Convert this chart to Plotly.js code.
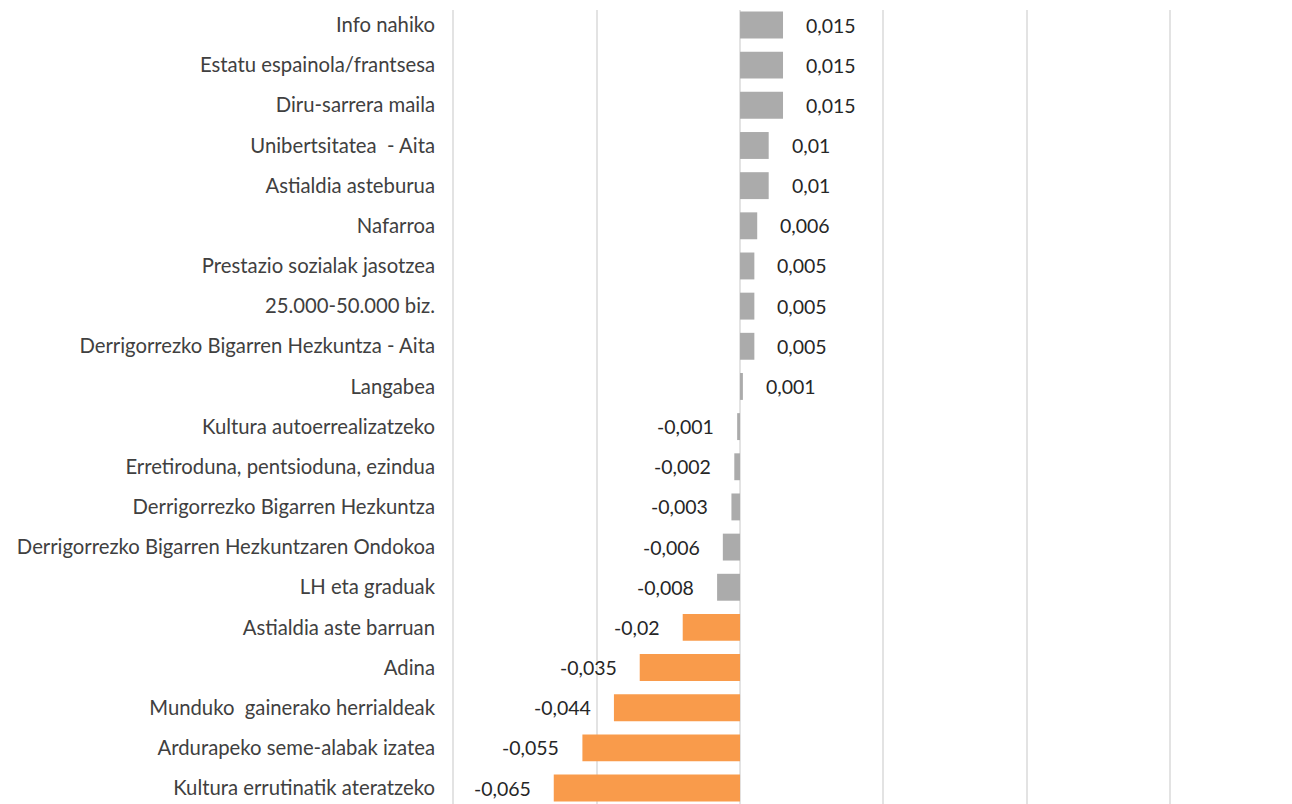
<!DOCTYPE html>
<html>
<head>
<meta charset="utf-8">
<script src="https://cdn.plot.ly/plotly-3.0.1.min.js"></script>
<style>html,body{margin:0;padding:0;background:#fff;}#chart{width:1292px;height:804px;}</style>
</head>
<body>
<div id="chart"></div>
<script>
const categories = [
  "Info nahiko",
  "Estatu espainola/frantsesa",
  "Diru-sarrera maila",
  "Unibertsitatea  - Aita",
  "Astialdia asteburua",
  "Nafarroa",
  "Prestazio sozialak jasotzea",
  "25.000-50.000 biz.",
  "Derrigorrezko Bigarren Hezkuntza - Aita",
  "Langabea",
  "Kultura autoerrealizatzeko",
  "Erretiroduna, pentsioduna, ezindua",
  "Derrigorrezko Bigarren Hezkuntza",
  "Derrigorrezko Bigarren Hezkuntzaren Ondokoa",
  "LH eta graduak",
  "Astialdia aste barruan",
  "Adina",
  "Munduko  gainerako herrialdeak",
  "Ardurapeko seme-alabak izatea",
  "Kultura errutinatik ateratzeko"
];
const values = [0.015, 0.015, 0.015, 0.01, 0.01, 0.006, 0.005, 0.005, 0.005, 0.001,
  -0.001, -0.002, -0.003, -0.006, -0.008, -0.02, -0.035, -0.044, -0.055, -0.065];
const labels = ["0,015","0,015","0,015","0,01","0,01","0,006","0,005","0,005","0,005","0,001",
  "-0,001","-0,002","-0,003","-0,006","-0,008","-0,02","-0,035","-0,044","-0,055","-0,065"];
const highlight = [false,false,false,false,false,false,false,false,false,false,
  false,false,false,false,false,true,true,true,true,true];

const GRAY = "#ABABAB", ORANGE = "#F99B4B";
const colors = highlight.map(h => h ? ORANGE : GRAY);

const trace = {
  type: "bar",
  orientation: "h",
  x: values,
  y: categories,
  marker: {color: colors, line: {width: 0}},
  width: 0.67,
  hoverinfo: "none"
};

const annotations = values.map((v, i) => ({
  x: v, y: categories[i], xref: "x", yref: "y",
  text: labels[i], showarrow: false,
  xanchor: v >= 0 ? "left" : "right",
  xshift: v >= 0 ? 21 : -21,
  font: {family: "Lato, sans-serif", size: 19.5, color: "#262626"}
}));

const layout = {
  width: 1292, height: 804,
  margin: {l: 450, r: 0, t: 10, b: 0, pad: 0},
  paper_bgcolor: "#fff", plot_bgcolor: "#fff",
  showlegend: false,
  xaxis: {
    range: [-0.1012, 0.1926],
    dtick: 0.05, tick0: 0,
    showticklabels: false,
    showgrid: true, gridcolor: "#E3E3E3", gridwidth: 2,
    zeroline: true, zerolinecolor: "#E3E3E3", zerolinewidth: 2,
    showline: false, ticks: ""
  },
  yaxis: {
    type: "category",
    range: [19.397, -0.3735],
    showgrid: false, zeroline: false, showline: false, ticks: "",
    ticklabelstandoff: 14,
    tickfont: {family: "Lato, sans-serif", size: 20.3, color: "#404040"}
  },
  annotations: annotations
};

Plotly.newPlot("chart", [trace], layout, {staticPlot: true, displayModeBar: false});
</script>
</body>
</html>
